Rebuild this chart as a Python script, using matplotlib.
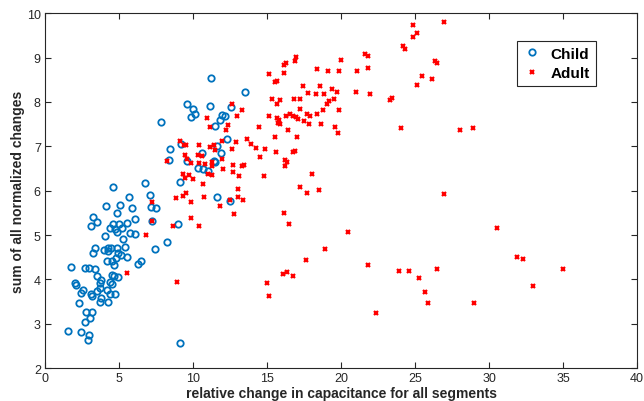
import numpy as np
from matplotlib import pyplot as plt

# child group (blue circles)
child_x = [8.46, 8.36, 4.57, 6.78, 7.09, 9.12, 4.14, 5.07, 5.66, 5.88, 7.16, 7.52, 4.86, 6.10, 7.23,
           3.22, 3.49, 3.13, 4.57, 5.02, 5.54, 4.39, 4.71, 5.22, 4.84, 4.07, 5.74, 6.06, 5.25, 9.01,
           8.26, 7.43, 3.36, 3.22, 3.97, 4.26, 4.48, 4.86, 4.28, 5.41, 4.91, 5.16, 4.82, 5.54, 4.21,
           4.55, 4.66, 6.30, 6.49, 1.78, 2.70, 2.99, 3.38, 3.49, 3.78, 4.53, 4.66, 4.91, 4.39, 4.51,
           2.05, 2.07, 2.55, 2.45, 3.72, 3.74, 3.53, 3.11, 3.20, 4.17, 4.39, 4.71, 3.76, 3.70, 4.24,
           2.28, 2.79, 3.16, 3.04, 2.70, 1.57, 2.45, 2.99, 2.91, 9.12, 11.24, 13.49, 9.57, 9.98, 10.16,
           9.89, 11.15, 12.59, 7.86, 11.94, 12.16, 11.82, 11.51, 12.30, 9.17, 11.60, 10.59, 11.89, 9.59,
           11.40, 11.47, 10.34, 10.68, 11.03, 11.60, 12.50]
child_y = [6.93, 6.69, 6.08, 6.17, 5.90, 6.20, 5.65, 5.68, 5.85, 5.62, 5.64, 5.62, 5.49, 5.37, 5.31,
           5.40, 5.29, 5.20, 5.25, 5.25, 5.26, 5.16, 5.13, 5.16, 5.07, 4.98, 5.05, 5.02, 4.90, 5.25,
           4.85, 4.68, 4.71, 4.60, 4.67, 4.71, 4.70, 4.71, 4.63, 4.74, 4.59, 4.56, 4.48, 4.50, 4.41,
           4.41, 4.32, 4.35, 4.41, 4.28, 4.26, 4.25, 4.23, 4.07, 3.98, 4.10, 4.08, 4.06, 3.95, 3.89,
           3.92, 3.88, 3.77, 3.69, 3.91, 3.80, 3.74, 3.68, 3.63, 3.75, 3.68, 3.68, 3.59, 3.50, 3.49,
           3.46, 3.27, 3.27, 3.13, 3.03, 2.84, 2.81, 2.74, 2.64, 2.56, 8.53, 8.23, 7.95, 7.84, 7.73,
           7.67, 7.90, 7.89, 7.55, 7.71, 7.69, 7.59, 7.46, 7.16, 7.05, 7.01, 6.84, 6.85, 6.66,
           6.68, 6.65, 6.51, 6.49, 6.44, 5.86, 5.76]

# adult group (red crosses)
adult_x = [8.22, 7.21, 8.85, 7.25, 8.65, 6.82, 5.56, 8.90, 15.11, 12.64, 13.33, 12.99, 15.11, 10.95,
           11.17, 12.34, 12.21, 14.44, 9.09, 9.53, 9.41, 10.43, 11.17, 11.42, 11.49, 11.94, 12.66,
           12.91, 13.64, 13.94, 14.27, 14.89, 14.55, 9.43, 9.56, 10.32, 10.64, 9.85, 10.42, 10.80,
           11.30, 11.30, 11.98, 12.03, 12.70, 12.68, 13.31, 13.45, 11.00, 11.25, 9.34, 9.75, 9.48,
           9.99, 13.13, 14.80, 10.70, 9.55, 9.32, 10.74, 9.86, 13.02, 13.04, 13.41, 12.51, 11.84,
           12.75, 9.86, 10.42, 15.00, 15.11, 16.98, 16.91, 16.26, 16.17, 19.97, 16.17, 15.70, 15.56,
           18.40, 19.12, 19.84, 17.41, 18.58, 19.41, 19.70, 17.75, 18.31, 18.87, 15.36, 15.86, 15.66,
           16.82, 17.23, 19.55, 19.21, 19.05, 17.23, 18.78, 19.83, 15.70, 15.79, 15.76, 15.88, 16.28,
           16.55, 16.78, 16.96, 17.11, 17.67, 17.92, 18.36, 17.49, 17.82, 18.67, 19.56, 19.77, 16.42,
           15.54, 17.03, 15.63, 16.78, 16.91, 16.22, 16.33, 16.24, 18.04, 17.23, 17.67, 18.49, 16.17,
           16.50, 20.45, 18.95, 17.66, 16.10, 16.37, 16.76, 21.82, 22.36, 23.90, 24.61, 24.86, 26.98,
           25.16, 24.89, 24.19, 24.32, 21.64, 21.82, 21.10, 21.84, 26.33, 26.49, 25.49, 26.17, 25.14,
           21.01, 21.96, 23.43, 23.31, 24.03, 28.06, 28.92, 26.94, 30.56, 31.91, 32.32, 35.00, 26.47,
           25.25, 25.68, 25.86, 28.97, 32.95]
adult_y = [6.68, 5.74, 5.83, 5.32, 5.20, 5.01, 4.14, 3.95, 8.64, 7.96, 7.83, 7.69, 7.68, 7.63,
           7.44, 7.48, 7.36, 7.44, 7.13, 7.03, 7.02, 7.04, 6.99, 7.03, 6.92, 7.13, 6.93,
           7.09, 7.16, 7.06, 6.96, 6.95, 6.75, 6.80, 6.72, 6.81, 6.79, 6.62, 6.62, 6.60,
           6.64, 6.55, 6.72, 6.49, 6.57, 6.42, 6.55, 6.57, 6.38, 6.35, 6.38, 6.35, 6.28,
           6.26, 6.33, 6.34, 6.14, 5.95, 5.88, 5.85, 5.75, 6.03, 5.86, 5.78, 5.79, 5.65,
           5.47, 5.38, 5.20, 3.91, 3.63, 9.01, 8.93, 8.89, 8.83, 8.94, 8.65, 8.48, 8.44,
           8.74, 8.70, 8.69, 8.36, 8.36, 8.30, 8.22, 8.20, 8.19, 8.17, 8.07, 8.04, 7.95,
           8.07, 8.07, 8.06, 8.03, 7.95, 7.84, 7.81, 7.83, 7.64, 7.59, 7.52, 7.50, 7.68,
           7.73, 7.69, 7.67, 7.62, 7.74, 7.68, 7.72, 7.58, 7.50, 7.50, 7.43, 7.31, 7.37,
           7.20, 7.20, 6.88, 6.88, 6.89, 6.70, 6.65, 6.55, 6.37, 6.08, 5.95, 6.01, 5.50,
           5.25, 5.06, 4.69, 4.44, 4.12, 4.16, 4.07, 4.32, 3.25, 4.19, 4.18, 9.74, 9.81,
           9.55, 9.47, 9.27, 9.19, 9.08, 9.04, 8.69, 8.76, 8.93, 8.87, 8.59, 8.52, 8.39,
           8.23, 8.18, 8.08, 8.04, 7.41, 7.37, 7.41, 5.92, 5.15, 4.51, 4.45, 4.23, 4.23,
           4.03, 3.71, 3.46, 3.46, 3.85]

plt.rcParams['font.family'] = ['Liberation Sans', 'DejaVu Sans']

fig = plt.figure(figsize=(6.44, 4.02), dpi=100)
ax = fig.add_axes([0.0699, 0.082, 0.9193, 0.8824])

ax.plot(child_x, child_y, 'o', linestyle='none', mfc='none', mec='#0072BD',
        ms=4.6, mew=1.3, label='Child')
ax.plot(adult_x, adult_y, 'x', linestyle='none', color='#FF0000',
        ms=3.4, mew=1.6, label='Adult')

ax.set_xlim(0, 40)
ax.set_ylim(2, 10)
ax.set_xticks(np.arange(0, 41, 5))
ax.set_yticks(np.arange(2, 11, 1))
ax.tick_params(direction='in', top=True, right=True, length=4, width=0.8,
               labelsize=9, colors='#262626', pad=3)
for s in ax.spines.values():
    s.set_linewidth(0.8)
    s.set_color('#262626')

ax.set_xlabel('relative change in capacitance for all segments', fontsize=10,
              fontweight='bold', color='#262626', labelpad=1)
ax.set_ylabel('sum of all normalized changes', fontsize=10,
              fontweight='bold', color='#262626', va='center')
ax.yaxis.set_label_coords(-0.0456, 0.5)

leg = ax.legend(loc='upper right', bbox_to_anchor=(0.930, 0.923),
                prop={'weight': 'bold', 'size': 11}, fancybox=False, framealpha=1,
                edgecolor='#262626', handlelength=1.2, borderpad=0.4, labelspacing=0.35,
                handletextpad=0.6, borderaxespad=0)
leg.get_frame().set_linewidth(0.8)

fig.savefig('out.png', dpi=100)
